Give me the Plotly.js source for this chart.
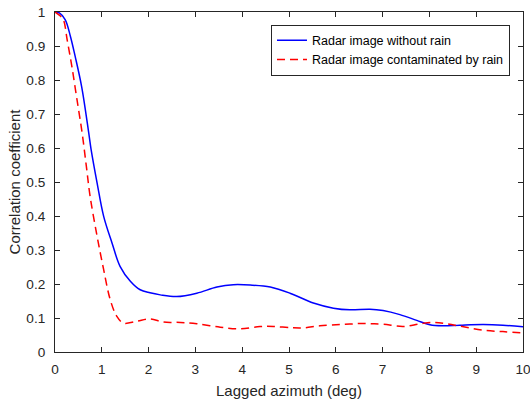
<!DOCTYPE html>
<html>
<head>
<meta charset="utf-8">
<script src="https://cdn.plot.ly/plotly-3.0.1.min.js"></script>
<style>
  html, body { margin: 0; padding: 0; background: #fff; }
  #chart { width: 530px; height: 401px; }
</style>
</head>
<body>
<div id="chart"></div>
<script>
// Lagged azimuth (deg) and correlation coefficient for each radar image
const lagClear = [0, 0.1, 0.22, 0.33, 0.43, 0.57, 0.72, 0.77, 0.9, 1.04, 1.22, 1.39, 1.61, 1.82, 2.03, 2.25, 2.6, 3.03, 3.46, 3.81, 4.17, 4.6, 5.02, 5.52, 5.95, 6.3, 6.73, 7.01, 7.37, 7.73, 8.01, 8.29, 8.65, 9.15, 9.57, 10];
const corrClear = [1, 0.997, 0.977, 0.928, 0.87, 0.78, 0.645, 0.597, 0.497, 0.399, 0.32, 0.252, 0.208, 0.183, 0.174, 0.168, 0.163, 0.173, 0.191, 0.198, 0.197, 0.191, 0.173, 0.144, 0.129, 0.124, 0.126, 0.122, 0.110, 0.093, 0.080, 0.077, 0.079, 0.081, 0.079, 0.074];

const lagRain = [0, 0.1, 0.18, 0.26, 0.36, 0.47, 0.58, 0.67, 0.75, 0.9, 1.04, 1.18, 1.32, 1.46, 1.74, 2.03, 2.32, 2.68, 3.03, 3.53, 3.96, 4.38, 4.67, 5.09, 5.31, 5.66, 6.09, 6.3, 6.52, 6.73, 7.01, 7.44, 7.8, 8.08, 8.37, 8.73, 9.15, 9.57, 10];
const corrRain = [1, 0.99, 0.977, 0.918, 0.84, 0.742, 0.644, 0.546, 0.458, 0.34, 0.242, 0.154, 0.105, 0.085, 0.09, 0.097, 0.088, 0.087, 0.083, 0.073, 0.068, 0.075, 0.075, 0.071, 0.071, 0.077, 0.081, 0.082, 0.084, 0.083, 0.082, 0.075, 0.083, 0.087, 0.083, 0.074, 0.064, 0.060, 0.056];

const seriesNames = ['Radar image without rain', 'Radar image contaminated by rain'];
const xTicks = [0, 1, 2, 3, 4, 5, 6, 7, 8, 9, 10];
const yTicks = [0, 0.1, 0.2, 0.3, 0.4, 0.5, 0.6, 0.7, 0.8, 0.9, 1];
const yTickText = ['0', '0.1', '0.2', '0.3', '0.4', '0.5', '0.6', '0.7', '0.8', '0.9', '1'];

const axisColor = '#262626';
const fontFamily = 'Liberation Sans, Arial, Helvetica, sans-serif';

const traces = [
  {
    x: lagClear, y: corrClear, name: seriesNames[0],
    type: 'scatter', mode: 'lines',
    line: { color: '#0000ff', width: 1.5, shape: 'spline', smoothing: 1 }
  },
  {
    x: lagRain, y: corrRain, name: seriesNames[1],
    type: 'scatter', mode: 'lines',
    line: { color: '#ff0000', width: 1.5, dash: '8px,5px', shape: 'spline', smoothing: 1 }
  }
];

const axisCommon = {
  showline: true, linecolor: axisColor, linewidth: 1,
  mirror: 'ticks', ticks: 'inside', ticklen: 5, tickwidth: 1, tickcolor: axisColor,
  showgrid: false, zeroline: false, ticklabeloverflow: 'allow',
  tickfont: { family: fontFamily, size: 13.6, color: axisColor }
};

const layout = {
  width: 530, height: 401,
  margin: { l: 55, r: 7, t: 12, b: 49 },
  paper_bgcolor: '#ffffff', plot_bgcolor: '#ffffff',
  font: { family: fontFamily, color: axisColor },
  showlegend: true,
  legend: {
    x: 0.4615, y: 0.963, xanchor: 'left', yanchor: 'top',
    bgcolor: '#ffffff', bordercolor: axisColor, borderwidth: 1,
    font: { family: fontFamily, size: 12.5, color: '#000000' },
    itemwidth: 30, tracegroupgap: 0
  },
  xaxis: Object.assign({}, axisCommon, {
    range: [0, 10], tickvals: xTicks, ticktext: xTicks.map(String),
    ticklabelstandoff: 5,
    title: { text: 'Lagged azimuth (deg)', font: { family: fontFamily, size: 15, color: axisColor }, standoff: 9 }
  }),
  yaxis: Object.assign({}, axisCommon, {
    range: [0, 1], tickvals: yTicks, ticktext: yTickText,
    ticklabelstandoff: 6,
    title: { text: 'Correlation coefficient', font: { family: fontFamily, size: 15, color: axisColor }, standoff: 2 }
  })
};

Plotly.newPlot('chart', traces, layout, { displayModeBar: false, staticPlot: true });
</script>
</body>
</html>
